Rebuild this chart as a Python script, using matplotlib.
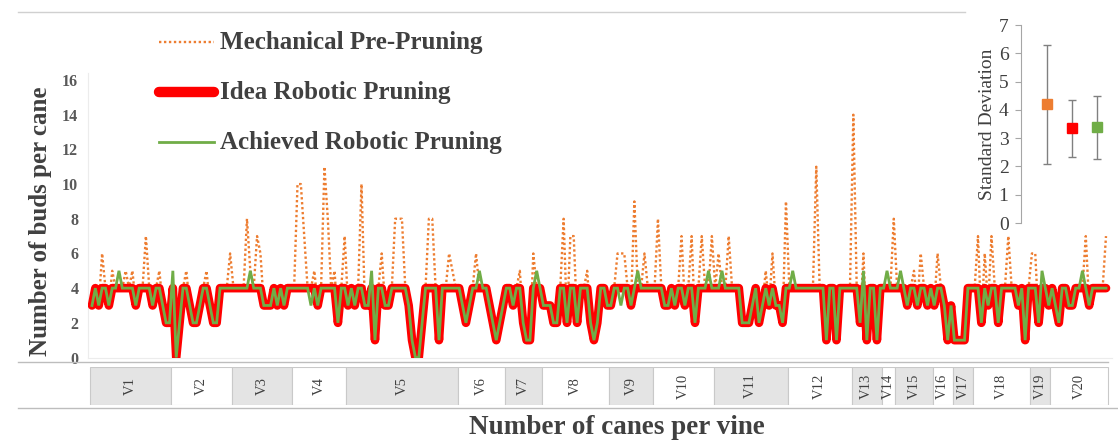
import matplotlib
matplotlib.use("Agg")
import matplotlib.pyplot as plt
from matplotlib.lines import Line2D
from matplotlib.patches import Rectangle
import numpy as np

# ---------------- data ----------------
vine_labels = ["V1", "V2", "V3", "V4", "V5", "V6", "V7", "V8", "V9", "V10",
               "V11", "V12", "V13", "V14", "V15", "V16", "V17", "V18", "V19", "V20"]
canes_per_vine = [24, 18, 18, 16, 33, 14, 11, 20, 13, 18, 22, 19, 9, 4, 11, 6, 6, 17, 6, 17]

mechanical = [
    3, 4, 3, 6, 4, 3, 5, 4, 4, 4, 5, 4, 5, 3, 4, 4, 7, 4, 3, 4, 5, 3, 2, 2,          # V1
    4, 0, 2, 4, 5, 3, 2, 2, 3, 4, 5, 3, 2, 2, 4, 4, 4, 6,                            # V2
    4, 4, 4, 4, 8, 5, 4, 7, 6, 3, 3, 3, 4, 3, 4, 3, 4, 4,                            # V3
    4, 10, 10, 7, 4, 4, 5, 3, 4, 11, 8, 4, 5, 2, 4, 7,                               # V4
    3, 4, 3, 4, 10, 3, 3, 4, 1, 4, 6, 3, 3, 4, 8, 8, 8, 4, 3, 1, 0, 0, 2, 4, 8, 8,
    4, 1, 4, 4, 6, 5, 4,                                                             # V5
    4, 3, 2, 3, 4, 6, 4, 4, 4, 3, 2, 1, 2, 3,                                        # V6
    4, 4, 3, 4, 5, 2, 1, 1, 6, 4, 4,                                                 # V7
    3, 3, 3, 2, 2, 4, 8, 2, 7, 7, 2, 4, 4, 5, 2, 1, 2, 4, 4, 3,                      # V8
    3, 4, 6, 6, 6, 4, 3, 9, 4, 4, 6, 4, 4,                                           # V9
    4, 8, 4, 3, 3, 4, 3, 4, 7, 3, 4, 7, 2, 4, 7, 4, 4, 7,                            # V10
    4, 6, 4, 4, 7, 4, 4, 4, 2, 2, 2, 3, 4, 2, 3, 5, 3, 6, 3, 3, 2, 9,                # V11
    4, 4, 4, 4, 4, 4, 4, 4, 11, 4, 4, 1, 4, 4, 1, 4, 4, 4, 4,                        # V12
    14, 4, 2, 6, 1, 4, 4, 1, 4,                                                      # V13
    4, 4, 4, 8,                                                                      # V14
    4, 4, 4, 3, 4, 5, 3, 6, 4, 3, 4,                                                 # V15
    3, 6, 4, 3, 1, 3,                                                                # V16
    1, 1, 1, 1, 4, 4,                                                                # V17
    4, 7, 2, 6, 3, 7, 4, 2, 4, 4, 7, 4, 4, 3, 4, 1, 4,                               # V18
    6, 6, 2, 4, 4, 3,                                                                # V19
    4, 3, 2, 4, 4, 3, 3, 4, 4, 4, 7, 3, 4, 4, 4, 4, 7,                               # V20
]

ideal = [
    3, 4, 3, 4, 4, 3, 4, 4, 4, 4, 4, 4, 4, 3, 4, 4, 4, 4, 3, 4, 4, 3, 2, 2,
    4, 0, 2, 4, 4, 3, 2, 2, 3, 4, 4, 3, 2, 2, 4, 4, 4, 4,
    4, 4, 4, 4, 4, 4, 4, 4, 4, 3, 3, 3, 4, 3, 4, 3, 4, 4,
    4, 4, 4, 4, 4, 4, 4, 3, 4, 4, 4, 4, 4, 2, 4, 4,
    3, 4, 3, 4, 4, 3, 3, 4, 1, 4, 4, 3, 3, 4, 4, 4, 4, 4, 3, 1, 0, 0, 2, 4, 4, 4,
    4, 1, 4, 4, 4, 4, 4,
    4, 3, 2, 3, 4, 4, 4, 4, 4, 3, 2, 1, 2, 3,
    4, 4, 3, 4, 4, 2, 1, 1, 4, 4, 4,
    3, 3, 3, 2, 2, 4, 4, 2, 4, 4, 2, 4, 4, 4, 2, 1, 2, 4, 4, 3,
    3, 4, 4, 4, 4, 4, 3, 4, 4, 4, 4, 4, 4,
    4, 4, 4, 3, 3, 4, 3, 4, 4, 3, 4, 4, 2, 4, 4, 4, 4, 4,
    4, 4, 4, 4, 4, 4, 4, 4, 2, 2, 2, 3, 4, 2, 3, 4, 3, 4, 3, 3, 2, 4,
    4, 4, 4, 4, 4, 4, 4, 4, 4, 4, 4, 1, 4, 4, 1, 4, 4, 4, 4,
    4, 4, 2, 4, 1, 4, 4, 1, 4,
    4, 4, 4, 4,
    4, 4, 4, 3, 4, 4, 3, 4, 4, 3, 4,
    3, 4, 4, 3, 1, 3,
    1, 1, 1, 1, 4, 4,
    4, 4, 2, 4, 3, 4, 4, 2, 4, 4, 4, 4, 4, 3, 4, 1, 4,
    4, 4, 2, 4, 4, 3,
    4, 3, 2, 4, 4, 3, 3, 4, 4, 4, 4, 3, 4, 4, 4, 4, 4,
]

achieved = [
    3, 4, 3, 4, 4, 3, 4, 4, 5, 4, 4, 4, 4, 3, 4, 4, 4, 4, 3, 4, 4, 3, 2, 2,
    5, 0, 2, 4, 4, 3, 2, 2, 3, 4, 4, 3, 2, 2, 4, 4, 4, 4,
    4, 4, 4, 4, 4, 5, 4, 4, 4, 3, 3, 3, 4, 3, 4, 3, 4, 4,
    4, 4, 4, 4, 4, 3, 4, 3, 4, 4, 4, 4, 4, 2, 4, 4,
    3, 4, 3, 4, 4, 3, 3, 5, 1, 4, 4, 3, 3, 4, 4, 4, 4, 4, 3, 1, 0, 0, 2, 4, 4, 4,
    4, 1, 4, 4, 4, 4, 4,
    4, 3, 2, 3, 4, 4, 5, 4, 4, 3, 2, 1, 2, 3,
    4, 4, 3, 4, 4, 2, 1, 1, 4, 5, 4,
    3, 3, 3, 2, 2, 4, 4, 2, 4, 4, 2, 4, 4, 4, 2, 1, 2, 4, 4, 3,
    3, 4, 4, 3, 4, 4, 3, 4, 5, 4, 4, 4, 4,
    4, 4, 4, 3, 3, 4, 3, 4, 4, 3, 4, 4, 2, 4, 4, 4, 5, 4,
    4, 4, 5, 4, 4, 4, 4, 4, 2, 2, 2, 3, 4, 2, 3, 4, 3, 4, 3, 3, 2, 4,
    4, 5, 4, 4, 4, 4, 4, 4, 4, 4, 4, 1, 4, 4, 1, 4, 4, 4, 4,
    4, 4, 2, 5, 1, 4, 4, 1, 4,
    4, 5, 4, 4,
    4, 5, 4, 3, 4, 4, 3, 4, 4, 3, 4,
    3, 4, 4, 3, 1, 3,
    1, 1, 1, 1, 4, 4,
    4, 4, 2, 4, 3, 4, 4, 2, 4, 4, 4, 4, 4, 3, 4, 1, 4,
    4, 4, 2, 5, 4, 3,
    4, 3, 2, 4, 4, 3, 3, 4, 4, 5, 4, 3, 4, 4, 4, 4, 4,
]

sd_series = ["Mechanical Pre-Pruning", "Idea Robotic Pruning", "Achieved Robotic Pruning"]
sd_mean = [4.2, 3.35, 3.38]
sd_err = [2.1, 1.0, 1.12]

legend_labels = ["Mechanical Pre-Pruning", "Idea Robotic Pruning", "Achieved Robotic Pruning"]

# ---------------- styling ----------------
ORANGE = "#ED7D31"
RED = "#FF0000"
GREEN = "#70AD47"
TXT = "#404040"
SERIF = ["Liberation Serif", "DejaVu Serif"]

W, H = 1118, 441
fig = plt.figure(figsize=(W / 100, H / 100), dpi=100)
fig.patch.set_facecolor("white")


def fx(x):
    return x / W


def fy(y):
    return 1 - y / H


# main axes
ax_l, ax_r = 88, 1112
ax_b, ax_t = 357.5, 73.1
ax = fig.add_axes([fx(ax_l), fy(ax_b), (ax_r - ax_l) / W, (ax_b - ax_t) / H])
n = len(mechanical)
x = np.arange(n)
ax.plot(x, mechanical, color=ORANGE, lw=1.7, ls=(0, (1, 1.1)), zorder=2)
ax.plot(x, ideal, color=RED, lw=6.2, solid_joinstyle="round", solid_capstyle="round", zorder=3)
ax.plot(x, achieved, color=GREEN, lw=2.0, solid_joinstyle="miter", zorder=4)
ax.set_xlim(-4 / 3.37, (n - 1) + 6 / 3.37)
ax.set_ylim(0, 16.4)
ax.set_yticks(range(0, 17, 2))
ax.set_xticks([])
ax.tick_params(axis="y", length=0, pad=7, labelsize=11.5, labelcolor="#595959")
for lab in ax.get_yticklabels():
    lab.set_fontfamily(SERIF)
    lab.set_fontweight("bold")
for s in ["top", "right"]:
    ax.spines[s].set_visible(False)
ax.spines["left"].set_color("#ececec")
ax.spines["bottom"].set_color("#ececec")
ax.set_facecolor("none")

# vine boxes
vax = fig.add_axes([fx(ax_l), fy(405), (ax_r - ax_l) / W, (405 - 367) / H])
vax.set_xlim(ax.get_xlim())
vax.set_ylim(0, 1)
vax.axis("off")
start = 0
for i, (lab, cnt) in enumerate(zip(vine_labels, canes_per_vine)):
    x0 = start - 0.5
    x1 = start + cnt - 0.5
    fc = "#e4e4e4" if i % 2 == 0 else "white"
    vax.add_patch(Rectangle((x0, 0), x1 - x0, 1, facecolor=fc,
                            edgecolor="#c9c9c9", lw=0.8))
    vax.text((x0 + x1) / 2, 0.5, lab, rotation=90, ha="center", va="center",
             fontsize=10.5, family=SERIF, color=TXT)
    start += cnt

# frame lines
fig.add_artist(Line2D([fx(18), fx(965)], [fy(12), fy(12)], color="#d0d0d0", lw=1))
fig.add_artist(Line2D([fx(18), fx(1108)], [fy(362), fy(362)], color="#bdbdbd", lw=1))
fig.add_artist(Line2D([fx(18), fx(1118)], [fy(408), fy(408)], color="#bdbdbd", lw=1))

# axis labels
fig.text(fx(41), fy(221), "Number of buds per cane", rotation=90, ha="center",
         va="center", fontsize=18, fontweight="bold", family=SERIF, color=TXT)
fig.text(fx(617), fy(428), "Number of canes per vine", ha="center", va="center",
         fontsize=19.5, fontweight="bold", family=SERIF, color=TXT)

# legend (manual)
leg_y = [42, 92, 142]
fig.add_artist(Line2D([fx(159), fx(214)], [fy(leg_y[0])] * 2, color=ORANGE, lw=1.7,
                      ls=(0, (1, 1.1))))
fig.add_artist(Line2D([fx(159), fx(214)], [fy(leg_y[1])] * 2, color=RED, lw=7.5,
                      solid_capstyle="round"))
fig.add_artist(Line2D([fx(159), fx(214)], [fy(leg_y[2])] * 2, color=GREEN, lw=2))
for yy, lab in zip(leg_y, legend_labels):
    fig.text(fx(220), fy(yy), lab, ha="left", va="center", fontsize=18,
             fontweight="bold", family=SERIF, color=TXT)

# inset: standard deviation
iax = fig.add_axes([fx(1021), fy(223), (1115 - 1021) / W, (223 - 25) / H])
iax.set_facecolor("none")
iax.set_xlim(-1.05, 2.7)
iax.set_ylim(0, 7)
for s in ["top", "right", "bottom"]:
    iax.spines[s].set_visible(False)
iax.spines["left"].set_color("#a6a6a6")
iax.set_xticks([])
iax.set_yticks(range(0, 8))
iax.tick_params(axis="y", length=4, color="#a6a6a6", pad=5, labelsize=14, labelcolor=TXT)
for lab in iax.get_yticklabels():
    lab.set_fontfamily(SERIF)
iax.set_ylabel("Standard Deviation", fontsize=14, family=SERIF, color=TXT, labelpad=2)
for i, (m, e, c) in enumerate(zip(sd_mean, sd_err, [ORANGE, RED, GREEN])):
    iax.errorbar([i], [m], yerr=[e], fmt="s", color=c, markersize=7.5,
                 ecolor="#808080", elinewidth=1, capsize=3, capthick=1)

fig.savefig("out.png", dpi=100, facecolor="white")
